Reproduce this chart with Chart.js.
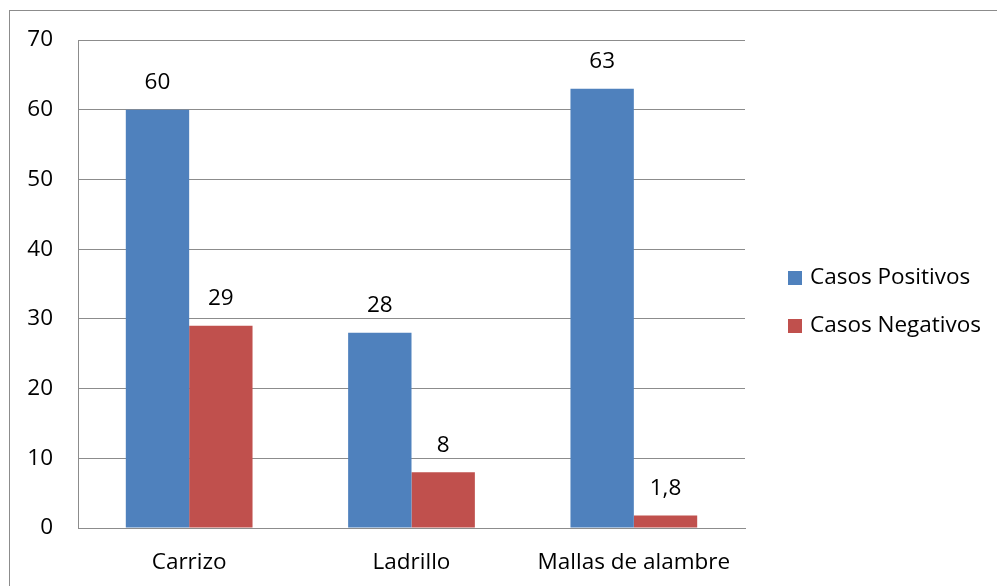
<!DOCTYPE html>
<html>
<head>
<meta charset="utf-8">
<script src="https://cdn.jsdelivr.net/npm/chart.js@4.4.1/dist/chart.umd.min.js"></script>
<style>
  html, body { margin: 0; padding: 0; background: #ffffff; }
  #wrap { position: relative; width: 997px; height: 586px; }
</style>
</head>
<body>
<div id="wrap"><canvas id="c" width="997" height="586"></canvas></div>
<script>
// Material categories and case counts
const categories = ['Carrizo', 'Ladrillo', 'Mallas de alambre'];
const casosPositivos = [60, 28, 63];
const casosNegativos = [29, 8, 1.8];
const seriesNames = ['Casos Positivos', 'Casos Negativos'];
const yTicks = [0, 10, 20, 30, 40, 50, 60, 70];

const FONT = '"Open Sans", sans-serif';
const FONT_SIZE = 22.5;
const BLUE = '#4F81BD';
const RED = '#C0504D';
const GRID = '#8c8c8c';

const fmt = v => String(v).replace('.', ',');

// Outer frame of the chart object
const framePlugin = {
  id: 'frame',
  beforeDraw(chart) {
    const ctx = chart.ctx;
    ctx.save();
    ctx.fillStyle = '#ffffff';
    ctx.fillRect(0, 0, chart.width, chart.height);
    ctx.strokeStyle = GRID;
    ctx.lineWidth = 1;
    ctx.strokeRect(9.5, 10.5, 1200, 1200);
    ctx.restore();
  }
};

// Value labels above each bar
const valueLabels = {
  id: 'valueLabels',
  afterDatasetsDraw(chart) {
    const ctx = chart.ctx;
    ctx.save();
    ctx.font = FONT_SIZE + 'px ' + FONT;
    ctx.fillStyle = '#000000';
    ctx.textAlign = 'center';
    ctx.textBaseline = 'middle';
    chart.data.datasets.forEach((ds, di) => {
      chart.getDatasetMeta(di).data.forEach((bar, i) => {
        ctx.fillText(fmt(ds.data[i]), bar.x, bar.y - 27);
      });
    });
    ctx.restore();
  }
};

// Legend at the right of the plot
const sideLegend = {
  id: 'sideLegend',
  afterDraw(chart) {
    const ctx = chart.ctx;
    const area = chart.chartArea;
    ctx.save();
    ctx.font = FONT_SIZE + 'px ' + FONT;
    ctx.textBaseline = 'middle';
    ctx.textAlign = 'left';
    const x = area.right + 43;
    const y0 = 278;
    chart.data.datasets.forEach((ds, i) => {
      const y = y0 + i * 48;
      ctx.fillStyle = ds.backgroundColor;
      ctx.fillRect(x, y - 7, 14, 14);
      ctx.fillStyle = '#000000';
      ctx.fillText(ds.label, x + 22, y);
    });
    ctx.restore();
  }
};

new Chart(document.getElementById('c'), {
  type: 'bar',
  data: {
    labels: categories,
    datasets: [
      { label: seriesNames[0], data: casosPositivos, backgroundColor: BLUE },
      { label: seriesNames[1], data: casosNegativos, backgroundColor: RED }
    ]
  },
  options: {
    responsive: false,
    animation: false,
    devicePixelRatio: 1,
    layout: { padding: { left: 0, top: 40, right: 252, bottom: 0 } },
    categoryPercentage: 0.57,
    barPercentage: 1.0,
    plugins: { legend: { display: false }, tooltip: { enabled: false } },
    scales: {
      x: {
        grid: { display: false, drawTicks: false },
        border: { display: true, color: GRID, width: 1 },
        ticks: { color: '#000000', font: { family: FONT, size: FONT_SIZE }, padding: 21 },
        afterFit(s) { s.height = 58; }
      },
      y: {
        min: 0, max: 70,
        afterBuildTicks(s) { s.ticks = yTicks.map(v => ({ value: v })); },
        grid: { color: GRID, drawTicks: false },
        border: { display: true, color: GRID, width: 1 },
        ticks: { color: '#000000', font: { family: FONT, size: FONT_SIZE }, padding: 25 },
        afterFit(s) { s.width = 78; }
      }
    }
  },
  plugins: [framePlugin, valueLabels, sideLegend]
});
</script>
</body>
</html>
